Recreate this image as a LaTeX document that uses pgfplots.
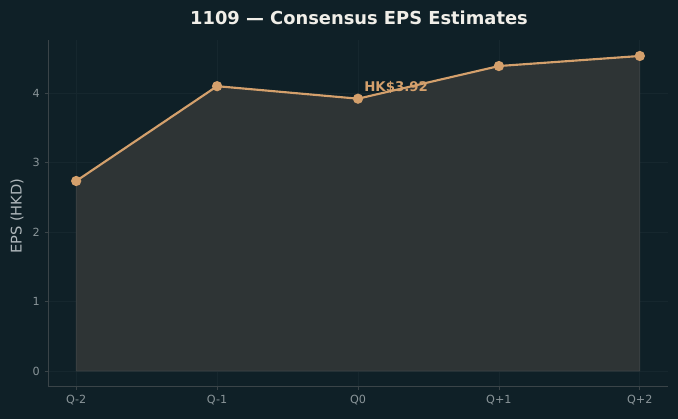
\documentclass[border=0pt]{standalone}
\usepackage{pgfplots}
\pgfplotsset{compat=1.18}
\usepackage{fontspec}
\setmainfont{DejaVu Sans}
\definecolor{bg}{HTML}{0F2027}
\definecolor{fillc}{HTML}{2E3435}
\definecolor{filledge}{HTML}{3E4446}
\definecolor{linec}{HTML}{D4A06C}
\definecolor{tickc}{HTML}{8A9599}
\definecolor{spinec}{HTML}{3A4448}
\definecolor{gridc}{HTML}{16272E}
\definecolor{titlec}{HTML}{F0EEE8}
\definecolor{labc}{HTML}{AEB6BA}
\begin{document}
\begin{tikzpicture}[x=1pt,y=1pt]
\fill[bg] (0,0) rectangle (508.5,314.25);
\node[font=\bfseries\fontsize{13.4}{15}\selectfont, text=titlec] at (269.25,300.5) {1109 — Consensus EPS Estimates};
\begin{axis}[
  at={(36pt,24.2pt)}, anchor=south west,
  scale only axis, width=465pt, height=259.8pt,
  xmin=-0.2, xmax=4.2, ymin=-0.227, ymax=4.76,
  axis x line*=bottom, axis y line*=left,
  axis line style={spinec, line width=0.6pt},
  xtick={0,1,2,3,4}, xticklabels={Q-2,Q-1,Q0,Q+1,Q+2},
  ytick={0,1,2,3,4},
  tick align=outside, major tick length=2.6pt,
  tick style={spinec, line width=0.6pt},
  ticklabel style={font=\fontsize{8.4}{10}\selectfont, text=tickc},
  /pgf/number format/assume math mode=true,
  grid=major, grid style={gridc, line width=0.5pt},
  ylabel={EPS (HKD)},
  ylabel style={font=\fontsize{11}{13}\selectfont, text=labc},
  every axis y label/.append style={at={(ticklabel cs:0.5)}, xshift=-2pt},
  clip=false,
]
\addplot[fill=fillc, draw=filledge, line width=0.6pt] coordinates {(0,0) (0,2.735) (1,4.10) (2,3.92) (3,4.39) (4,4.535) (4,0)} -- cycle;
\addplot[linec, line width=1.6pt, mark=*, mark size=3pt, mark options={fill=linec, draw=linec}] coordinates {(0,2.735) (1,4.10) (2,3.92) (3,4.39) (4,4.535)};
\node[anchor=west, font=\bfseries\fontsize{10}{12}\selectfont, text=linec, xshift=4.5pt, yshift=8.3pt, inner sep=0pt] at (axis cs:2,3.92) {HK\$3.92};
\end{axis}
\end{tikzpicture}
\end{document}
